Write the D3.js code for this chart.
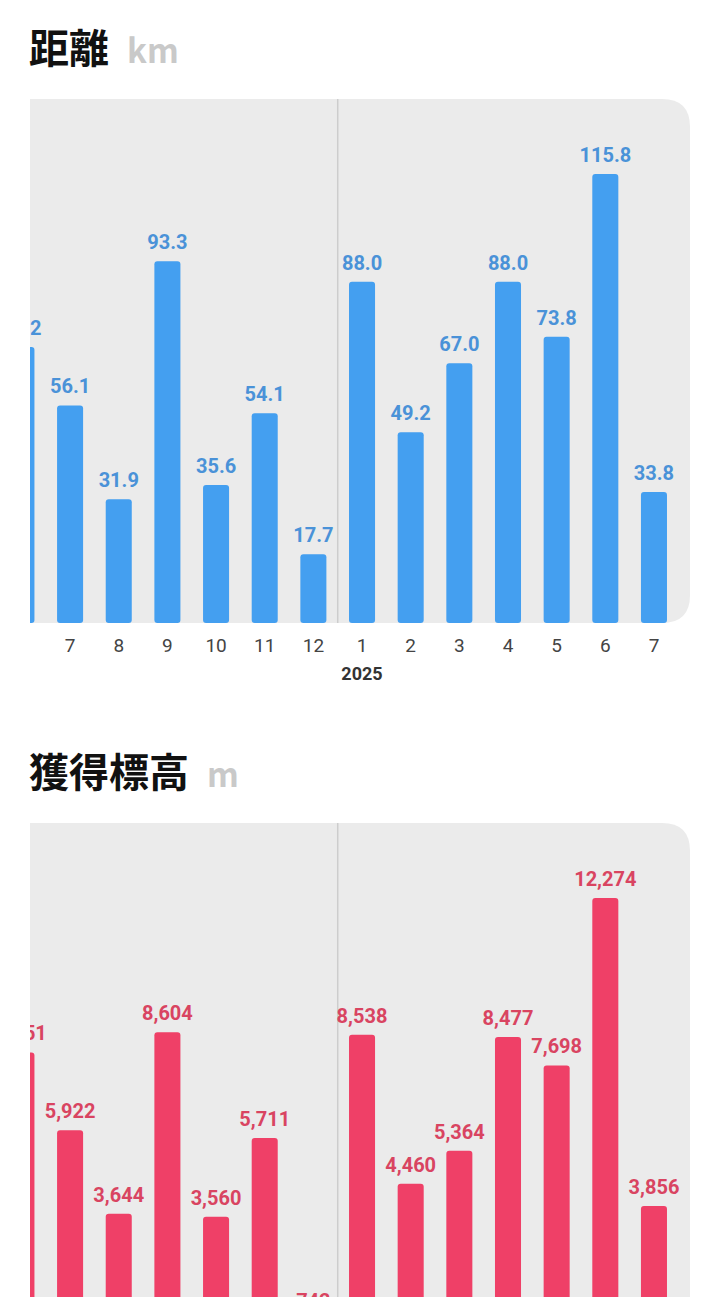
<!DOCTYPE html>
<html>
<head>
<meta charset="utf-8">
<script src="https://cdn.jsdelivr.net/npm/d3@7"></script>
<style>
  body { margin: 0; background: #fff; }
  svg { display: block; }
</style>
</head>
<body>
<svg id="chart" width="720" height="1304"></svg>
<script>
// months shown (the first one is scrolled half out of view)
const month_keys = ["2024-6","2024-7","2024-8","2024-9","2024-10","2024-11","2024-12",
                    "2025-1","2025-2","2025-3","2025-4","2025-5","2025-6","2025-7"];
const month_labels = ["6","7","8","9","10","11","12","1","2","3","4","5","6","7"];
const year_labels = [{key: "2025-1", text: "2025"}];

const distance_km = [71.2, 56.1, 31.9, 93.3, 35.6, 54.1, 17.7, 88.0, 49.2, 67.0, 88.0, 73.8, 115.8, 33.8];
const elevation_m = [8051, 5922, 3644, 8604, 3560, 5711, 742, 8538, 4460, 5364, 8477, 7698, 12274, 3856];

const svg = d3.select("#chart");
svg.append("rect").attr("width", 720).attr("height", 1304).attr("fill", "#fff");

// visible window of the scroll area
svg.append("defs").append("clipPath").attr("id", "viewClip")
  .append("rect").attr("x", 30).attr("y", 0).attr("width", 690).attr("height", 1297);

var x_scale = d3.scaleBand()
    .domain(month_keys)
    .range([-2.9, 678.3])
    .paddingInner(0.465)
    .paddingOuter(0.2325);

function roundedRightPanel(x0, y0, x1, y1, r) {
  return "M" + x0 + "," + y0 + "H" + (x1 - r) +
    "Q" + x1 + "," + y0 + " " + x1 + "," + (y0 + r) +
    "V" + (y1 - r) +
    "Q" + x1 + "," + y1 + " " + (x1 - r) + "," + y1 +
    "H" + x0 + "Z";
}

function drawPanel(opts) {
  // title
  var title = svg.append("text")
    .attr("x", 29).attr("y", opts.titleY)
    .style("font-family", "'Noto Sans CJK JP', sans-serif")
    .style("font-weight", 700)
    .style("font-size", "40px");
  title.append("tspan").attr("fill", "#111").text(opts.title);
  title.append("tspan").attr("fill", "#c9c9c9").attr("dx", 18)
    .style("font-size", "33px").text(opts.unit);

  var g = svg.append("g").attr("clip-path", "url(#viewClip)");

  var baseline = opts.panelTop + 524;
  var y_scale = d3.scaleLinear()
    .domain([0, d3.max(opts.values)])
    .range([baseline, baseline - 449]);

  g.append("path")
    .attr("d", roundedRightPanel(-20, opts.panelTop, 690, baseline, 28))
    .attr("fill", "#ebebeb");

  // year separator between 12 and 1
  var sepX = (x_scale("2024-12") + x_scale.bandwidth() + x_scale("2025-1")) / 2;
  g.append("line")
    .attr("x1", sepX).attr("x2", sepX)
    .attr("y1", opts.panelTop).attr("y2", baseline)
    .attr("stroke", "#cdcdcd").attr("stroke-width", 1.5);

  var data = month_keys.map(function(k, i) { return {key: k, value: opts.values[i]}; });

  g.selectAll(".bar").data(data).enter().append("rect")
    .attr("class", "bar")
    .attr("x", d => x_scale(d.key))
    .attr("y", d => y_scale(d.value))
    .attr("width", x_scale.bandwidth())
    .attr("height", d => baseline - y_scale(d.value))
    .attr("rx", 3)
    .attr("fill", opts.barColor);

  g.selectAll(".val").data(data).enter().append("text")
    .attr("class", "val")
    .attr("x", d => x_scale(d.key) + x_scale.bandwidth() / 2)
    .attr("y", d => y_scale(d.value) - 12)
    .attr("text-anchor", "middle")
    .style("font-family", "Roboto, sans-serif")
    .style("font-weight", 700)
    .style("font-size", "20px")
    .attr("fill", opts.labelColor)
    .text(d => opts.fmt(d.value));

  // month axis
  var axis = g.append("g")
    .attr("transform", "translate(0," + baseline + ")")
    .call(d3.axisBottom(x_scale).tickSize(0).tickPadding(0)
      .tickFormat((d, i) => month_labels[i]));
  axis.select(".domain").remove();
  axis.selectAll("text")
    .attr("y", 29).attr("dy", null)
    .style("font-family", "Roboto, sans-serif")
    .style("font-size", "19px")
    .attr("fill", "#444");

  g.selectAll(".year").data(year_labels).enter().append("text")
    .attr("class", "year")
    .attr("x", d => x_scale(d.key) + x_scale.bandwidth() / 2)
    .attr("y", baseline + 57)
    .attr("text-anchor", "middle")
    .style("font-family", "Roboto, sans-serif")
    .style("font-weight", 700)
    .style("font-size", "18px")
    .attr("fill", "#333")
    .text(d => d.text);
}

drawPanel({
  title: "距離", unit: "km", titleY: 63, panelTop: 99,
  values: distance_km, fmt: d3.format(".1f"),
  barColor: "#449ff0", labelColor: "#4a92d8"
});

drawPanel({
  title: "獲得標高", unit: "m", titleY: 787, panelTop: 823,
  values: elevation_m, fmt: d3.format(","),
  barColor: "#ef4067", labelColor: "#d94461"
});
</script>
</body>
</html>
